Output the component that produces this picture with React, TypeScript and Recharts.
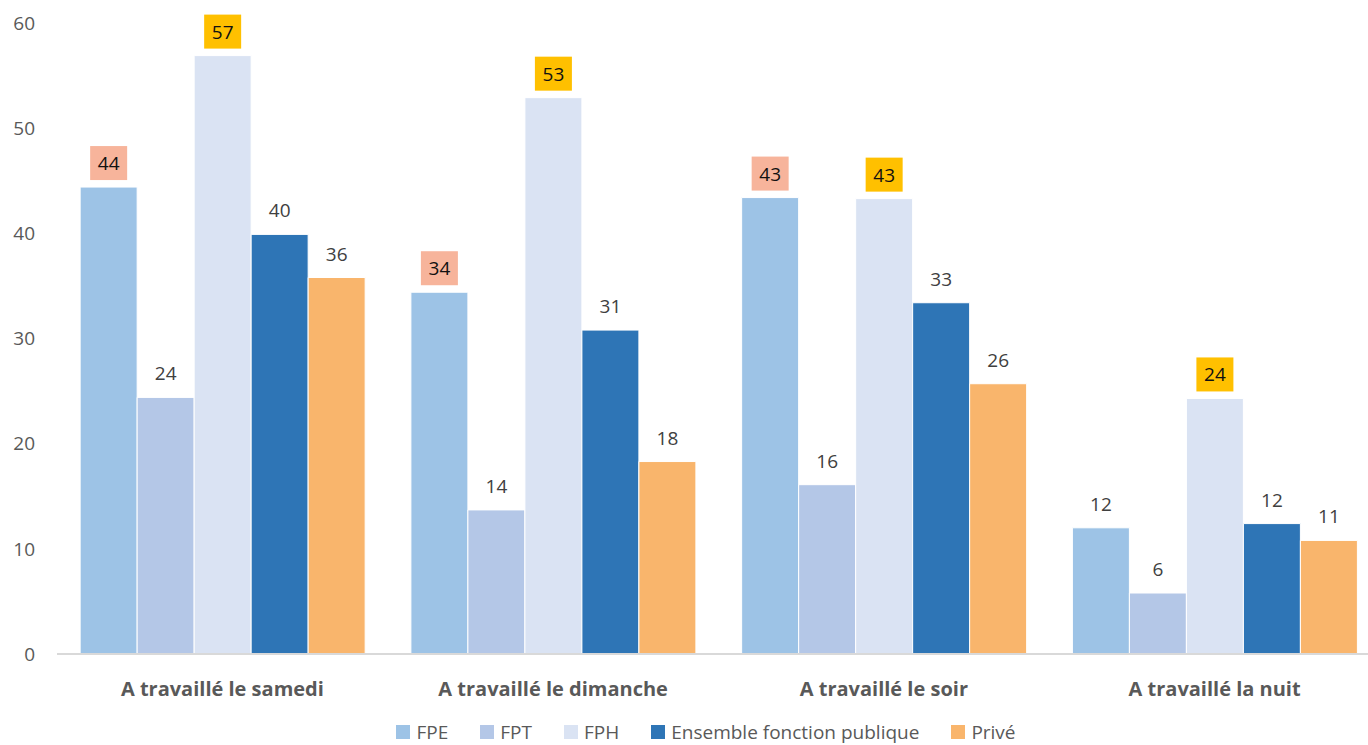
import React from "react";
import {
  BarChart,
  Bar,
  XAxis,
  YAxis,
  Legend,
  LabelList,
  ReferenceLine,
} from "recharts";

const categories = [
  "A travaillé le samedi",
  "A travaillé le dimanche",
  "A travaillé le soir",
  "A travaillé la nuit",
];
const fpe = [44.4, 34.4, 43.4, 12.0];
const fpt = [24.4, 13.7, 16.1, 5.8];
const fph = [56.9, 52.9, 43.3, 24.3];
const ensemble = [39.9, 30.8, 33.4, 12.4];
const prive = [35.8, 18.3, 25.7, 10.8];
const yTicks = [0, 10, 20, 30, 40, 50, 60];

// which labels get a coloured box
const fpeBoxed = [true, true, true, false];
const fphBoxed = [true, true, true, true];

const data = categories.map((name, i) => ({
  name,
  fpe: fpe[i],
  fpt: fpt[i],
  fph: fph[i],
  ensemble: ensemble[i],
  prive: prive[i],
}));

const FONT = "'Open Sans', 'Noto Sans', sans-serif";

function makeLabel(boxed: boolean[] | null, boxColor: string) {
  return (props: any) => {
    const { x, y, width, value, index } = props;
    const cx = x + width / 2;
    const cy = y - 24;
    const hasBox = boxed ? boxed[index] : false;
    return (
      <g>
        {hasBox && (
          <rect x={cx - 18.5} y={cy - 17} width={37} height={34} fill={boxColor} />
        )}
        <text
          x={cx}
          y={cy}
          textAnchor="middle"
          dominantBaseline="central"
          fontSize={19}
          fontFamily={FONT}
          fill={hasBox ? "#111" : "#404040"}
        >
          {Math.round(value)}
        </text>
      </g>
    );
  };
}

const series = [
  { key: "fpe", name: "FPE", color: "#9DC3E6", label: makeLabel(fpeBoxed, "#F7B49B") },
  { key: "fpt", name: "FPT", color: "#B4C7E7", label: makeLabel(null, "") },
  { key: "fph", name: "FPH", color: "#DAE3F3", label: makeLabel(fphBoxed, "#FFC000") },
  { key: "ensemble", name: "Ensemble fonction publique", color: "#2E75B6", label: makeLabel(null, "") },
  { key: "prive", name: "Privé", color: "#F9B56C", label: makeLabel(null, "") },
];

function LegendBox() {
  return (
    <div
      style={{
        display: "flex",
        justifyContent: "center",
        gap: 32,
        fontFamily: FONT,
        fontSize: 19,
        lineHeight: "20px",
        color: "#595959",
        width: 1368,
        marginLeft: 22,
      }}
    >
      {series.map((s) => (
        <div key={s.key} style={{ display: "flex", alignItems: "center" }}>
          <span
            style={{
              display: "inline-block",
              width: 14,
              height: 14,
              background: s.color,
              marginRight: 6,
            }}
          />
          <span>{s.name}</span>
        </div>
      ))}
    </div>
  );
}

export default function App() {
  return (
    <div
      style={{
        position: "absolute",
        left: 0,
        top: 0,
        width: 1368,
        height: 745,
        overflow: "hidden",
        background: "#fff",
      }}
    >
      <BarChart
        width={1380}
        height={745}
        data={data}
        margin={{ top: 23, right: 0, bottom: 0, left: 0 }}
        barCategoryGap="7%"
        barGap={0}
      >
        <XAxis
          dataKey="name"
          axisLine={false}
          tickLine={false}
          height={68}
          tickMargin={22}
          tick={{ fontSize: 20, fontWeight: 700, fill: "#595959", fontFamily: FONT }}
        />
        <YAxis
          domain={[0, 60]}
          ticks={yTicks}
          width={57}
          axisLine={false}
          tickLine={false}
          tickMargin={16}
          tick={{ fontSize: 19, fill: "#595959", fontFamily: FONT }}
        />
        <ReferenceLine y={0} stroke="#D9D9D9" strokeWidth={2} />
        <Legend verticalAlign="bottom" height={23} content={() => <LegendBox />} />
        {series.map((s) => (
          <Bar
            key={s.key}
            dataKey={s.key}
            name={s.name}
            fill={s.color}
            stroke="#fff"
            strokeWidth={1}
            isAnimationActive={false}
          >
            <LabelList dataKey={s.key} content={s.label} />
          </Bar>
        ))}
      </BarChart>
    </div>
  );
}
